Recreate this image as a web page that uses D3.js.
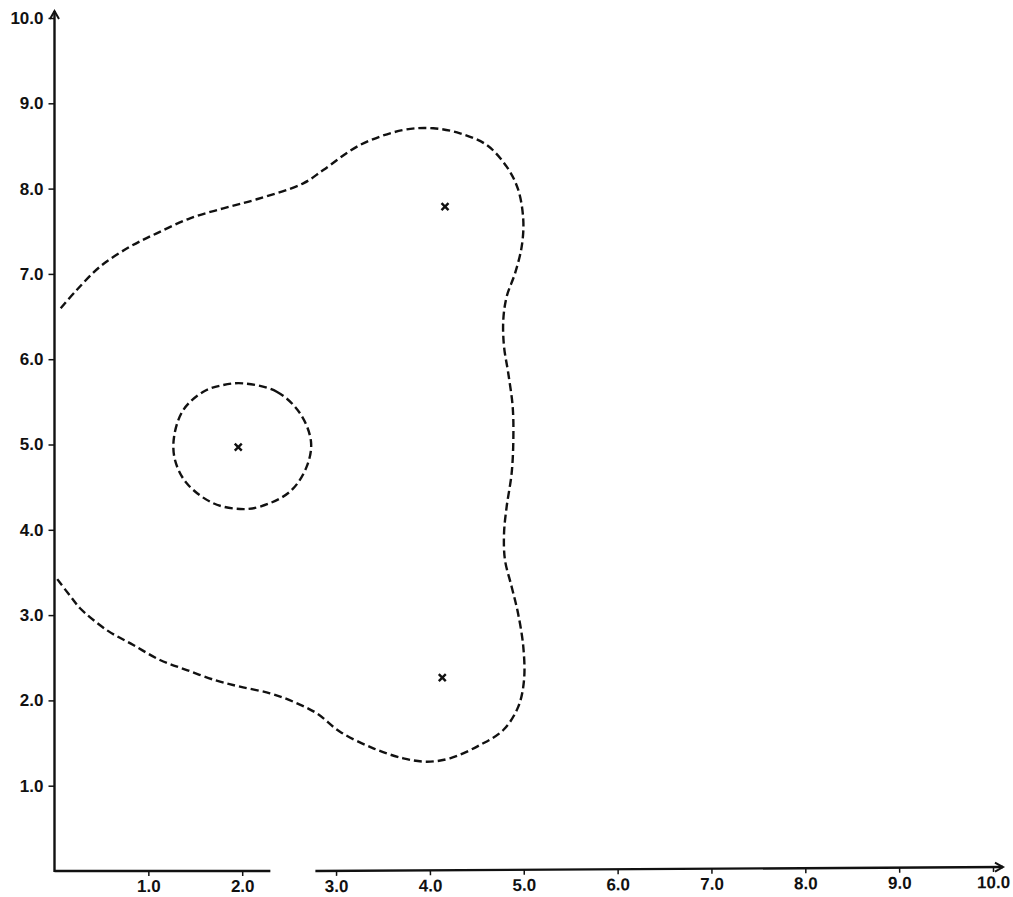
<!DOCTYPE html>
<html>
<head>
<meta charset="utf-8">
<script src="https://cdn.jsdelivr.net/npm/d3@7"></script>
<style>
  html, body { margin: 0; padding: 0; background: #fff; }
  svg { display: block; }
  .tick text { font-family: "Liberation Sans", Arial, sans-serif; font-weight: bold; font-size: 17px; fill: #111; }
</style>
</head>
<body>
<svg id="chart" width="1013" height="897"></svg>
<script>
// ---- data ----
const xTickValues = [1, 2, 3, 4, 5, 6, 7, 8, 9, 10];
const yTickValues = [1, 2, 3, 4, 5, 6, 7, 8, 9, 10];

// outer contour (open curve, from y-axis top branch around to y-axis bottom branch)
const outerX = [0.066, 0.237, 0.485, 0.804, 1.089, 1.444, 1.799, 2.155, 2.651, 2.864, 3.255, 3.717, 4.036, 4.321, 4.605, 4.818, 4.940, 4.995, 4.978, 4.907, 4.818, 4.782, 4.790, 4.835, 4.882, 4.889, 4.871, 4.818, 4.790, 4.800, 4.871, 4.939, 4.995, 5.003, 4.942, 4.782, 4.534, 4.214, 3.966, 3.717, 3.397, 3.042, 2.794, 2.544, 2.296, 1.977, 1.728, 1.409, 1.124, 0.840, 0.556, 0.272, 0.200, 0.023];
const outerY = [6.597, 6.811, 7.085, 7.319, 7.476, 7.652, 7.769, 7.875, 8.062, 8.218, 8.511, 8.687, 8.707, 8.648, 8.511, 8.257, 7.990, 7.632, 7.319, 7.007, 6.733, 6.460, 6.147, 5.835, 5.444, 5.053, 4.663, 4.271, 3.959, 3.646, 3.333, 3.021, 2.630, 2.239, 1.927, 1.653, 1.477, 1.321, 1.281, 1.321, 1.438, 1.633, 1.849, 1.985, 2.083, 2.161, 2.231, 2.356, 2.474, 2.649, 2.825, 3.080, 3.177, 3.431];

// inner closed contour around (2, 5)
const innerX = [2.012, 2.368, 2.616, 2.733, 2.687, 2.509, 2.189, 1.977, 1.692, 1.409, 1.284, 1.274, 1.372, 1.586, 1.799];
const innerY = [5.717, 5.619, 5.366, 5.033, 4.740, 4.447, 4.271, 4.244, 4.311, 4.545, 4.818, 5.091, 5.404, 5.619, 5.698];

// point sources (crosses)
const crossX = [1.958, 4.161, 4.132];
const crossY = [4.970, 7.788, 2.266];

// x-axis break
const xBreakStart = 2.3;
const xBreakEnd = 2.78;

// ---- drawing ----
const svg = d3.select("#chart");
const x = d3.scaleLinear().domain([0, 10]).range([54.5, 993]);
const y = d3.scaleLinear().domain([0, 10]).range([871, 18]);
const fmt = d3.format(".1f");

const ink = "#111";

// Y axis
const yAxisG = svg.append("g").attr("transform", `translate(${x(0)},0)`)
  .call(d3.axisLeft(y).tickValues(yTickValues).tickSize(6).tickPadding(5).tickFormat(fmt));
yAxisG.select(".domain").remove();
yAxisG.selectAll(".tick line").attr("stroke", ink).attr("stroke-width", 1.5);
svg.append("line").attr("x1", x(0)).attr("x2", x(0)).attr("y1", y(0) + 1).attr("y2", 11)
  .attr("stroke", ink).attr("stroke-width", 2.4);
svg.append("path").attr("d", `M${x(0) - 4.5},19 L${x(0)},11 L${x(0) + 4.5},19`)
  .attr("fill", "none").attr("stroke", ink).attr("stroke-width", 2);

// X axis: first segment
const xA = svg.append("g").attr("transform", `translate(0,${y(0)})`)
  .call(d3.axisBottom(x).tickValues(xTickValues.filter(v => v < xBreakStart)).tickSize(5).tickPadding(4).tickFormat(fmt));
xA.select(".domain").remove();
xA.selectAll(".tick line").attr("stroke", ink).attr("stroke-width", 1.5);
xA.append("line").attr("x1", x(0)).attr("x2", x(xBreakStart)).attr("y1", 0).attr("y2", 0)
  .attr("stroke", ink).attr("stroke-width", 2.4);

// X axis: second segment (slightly tilted, as in the reference)
const segStart = x(xBreakEnd);
const xB = svg.append("g").attr("transform", `rotate(-0.33, ${segStart}, ${y(0)}) translate(0,${y(0)})`)
  .call(d3.axisBottom(x).tickValues(xTickValues.filter(v => v > xBreakEnd)).tickSize(5).tickPadding(4).tickFormat(fmt));
xB.select(".domain").remove();
xB.selectAll(".tick line").attr("stroke", ink).attr("stroke-width", 1.5);
xB.append("line").attr("x1", segStart).attr("x2", x(10) + 10).attr("y1", 0).attr("y2", 0)
  .attr("stroke", ink).attr("stroke-width", 2.4);
xB.append("path").attr("d", `M${x(10) + 2},-4.5 L${x(10) + 10},0 L${x(10) + 2},4.5`)
  .attr("fill", "none").attr("stroke", ink).attr("stroke-width", 2);

// contours
const outerPts = outerX.map((v, i) => [v, outerY[i]]);
const innerPts = innerX.map((v, i) => [v, innerY[i]]);

const lineOpen = d3.line().x(d => x(d[0])).y(d => y(d[1])).curve(d3.curveCatmullRom.alpha(0.5));
const lineClosed = d3.line().x(d => x(d[0])).y(d => y(d[1])).curve(d3.curveCatmullRomClosed.alpha(0.5));

svg.append("path").attr("d", lineOpen(outerPts))
  .attr("fill", "none").attr("stroke", ink).attr("stroke-width", 2.4).attr("stroke-dasharray", "8,4");
svg.append("path").attr("d", lineClosed(innerPts))
  .attr("fill", "none").attr("stroke", ink).attr("stroke-width", 2.4).attr("stroke-dasharray", "8,4");

// crosses
const crosses = svg.append("g");
crossX.forEach((cx, i) => {
  const px = x(cx), py = y(crossY[i]), s = 3.5;
  crosses.append("path")
    .attr("d", `M${px - s},${py - s} L${px + s},${py + s} M${px - s},${py + s} L${px + s},${py - s}`)
    .attr("stroke", ink).attr("stroke-width", 2.4).attr("fill", "none");
});
</script>
</body>
</html>
